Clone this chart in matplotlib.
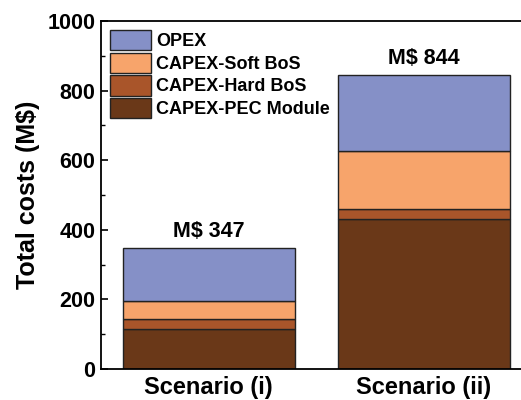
import matplotlib.pyplot as plt
import numpy as np

plt.rcParams['font.family'] = ['Liberation Sans', 'DejaVu Sans']
plt.rcParams['font.weight'] = 'bold'

scenarios = ['Scenario (i)', 'Scenario (ii)']
pec_module = [114, 432]
hard_bos = [29, 27]
soft_bos = [53, 166]
opex = [151, 219]
totals = [347, 844]

series = [('CAPEX-PEC Module', pec_module, '#6a3818'),
          ('CAPEX-Hard BoS', hard_bos, '#a9552a'),
          ('CAPEX-Soft BoS', soft_bos, '#f7a46b'),
          ('OPEX', opex, '#8590c7')]

fig = plt.figure(figsize=(5.21, 4.0), dpi=100)
ax = fig.add_axes([101 / 521, (400 - 369) / 400, 430 / 521, 348 / 400])

x = np.arange(len(scenarios))
bottom = np.zeros(len(scenarios))
handles = []
for label, vals, color in series:
    b = ax.bar(x, vals, width=0.8, bottom=bottom, color=color,
               edgecolor='#222222', linewidth=1.0, label=label)
    handles.append(b)
    bottom += np.array(vals)

for xi, t in zip(x, totals):
    ax.text(xi, t + 18, f'M$ {t}', ha='center', va='bottom',
            fontsize=15.5, fontweight='bold')

ax.set_xlim(-0.5, 1.5)
ax.set_ylim(0, 1000)
ax.set_yticks(np.arange(0, 1001, 200))
ax.set_yticks(np.arange(100, 1000, 200), minor=True)
ax.set_xticks(x)
ax.set_xticklabels(scenarios, fontsize=17, fontweight='bold')
ax.tick_params(axis='y', which='major', direction='in', length=5, width=1.2,
               labelsize=15.5, pad=4)
ax.tick_params(axis='y', which='minor', direction='in', length=3, width=1.0)
ax.tick_params(axis='x', length=0, pad=5)
for s in ax.spines.values():
    s.set_linewidth(1.3)
ax.set_ylabel('Total costs (M$)', fontsize=18, fontweight='bold', labelpad=5)

ax.legend(handles[::-1], [s[0] for s in series][::-1], loc='upper left',
          bbox_to_anchor=(0.0, 1.0), frameon=False, fontsize=13,
          handlelength=2.25, handleheight=1.35, handletextpad=0.3,
          labelspacing=0.13, borderaxespad=0.3, borderpad=0.2)

fig.savefig('out.png', dpi=100)
